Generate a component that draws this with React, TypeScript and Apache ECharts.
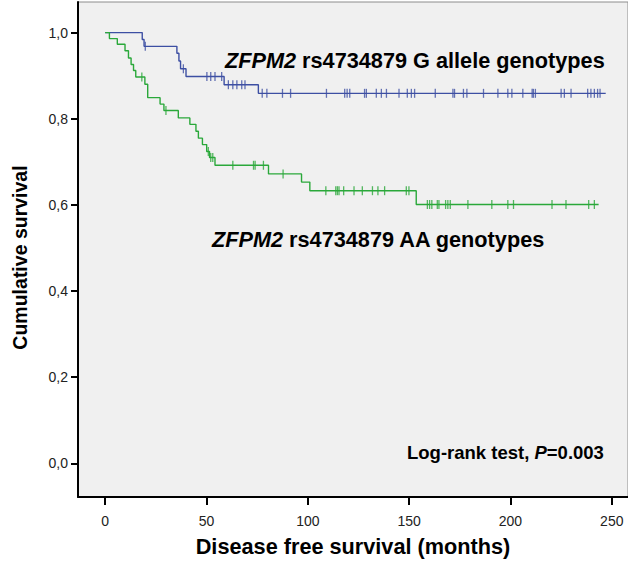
import React, { useEffect, useRef } from "react";
import * as echarts from "echarts";

// Kaplan-Meier step data (time in months, cumulative survival)
const blueTimes = [0, 18.3, 19.2, 35.4, 36.4, 37.2, 39.9, 58.7, 75.6, 247];
const blueSurv = [1, 0.984, 0.968, 0.952, 0.934, 0.916, 0.898, 0.879, 0.859, 0.859];
const blueCensored = [
  19.8, 38.6, 50.2, 52.1, 54.2, 57.5, 60.8, 63, 65, 67.4, 69, 77.5, 79.8, 87.5, 91.5,
  109.2, 118.2, 119.4, 120.7, 128, 128.9, 133.8, 136.3, 138.8, 145, 149.1, 151.1, 152.7,
  162.9, 171.6, 172.4, 176.8, 178.5, 186.7, 193.8, 198.7, 200.7, 206.1, 210.7, 211.3,
  212.3, 225, 226.6, 229.9, 238.1, 239.7, 241.4, 243, 244.2,
];

const greenTimes = [
  0, 2.1, 6.0, 9.8, 11.5, 12.8, 14.0, 15.1, 19.6, 21.0, 27.1, 29.0, 36.1, 41.8, 44.8,
  46.0, 48.0, 50.1, 51.5, 54.2, 80.6, 96.9, 101, 153.5, 243.5,
];
const greenSurv = [
  1, 0.986, 0.973, 0.958, 0.941, 0.926, 0.912, 0.897, 0.88, 0.849, 0.834, 0.819, 0.802,
  0.787, 0.771, 0.755, 0.74, 0.724, 0.71, 0.692, 0.672, 0.653, 0.633, 0.601, 0.601,
];
const greenCensored = [
  18.1, 30, 50.9, 52.1, 53.1, 63, 73.2, 74, 78.1, 87.8, 108.9, 113.8, 114.6, 115.4, 117.7,
  122.8, 126.9, 131.9, 134.6, 137.9, 148.6, 149.9, 159, 160.1, 161.2, 163.9, 164.7, 168,
  169.1, 170.3, 179, 190.8, 198.7, 201.5, 220.5, 227.4, 238.6, 241.4,
];

const xTicks = [0, 50, 100, 150, 200, 250];
const yTicks = [0, 0.2, 0.4, 0.6, 0.8, 1.0];

const blueLabel = "rs4734879 G allele genotypes";
const greenLabel = "rs4734879 AA genotypes";
const geneName = "ZFPM2";
const testLabel = "Log-rank test, ";
const pLabel = "=0.003";

const FONT = '"Liberation Sans", Arial, sans-serif';
const BLUE = "#3d4fa3";
const GREEN = "#2aa83a";

function survAt(times: number[], surv: number[], t: number) {
  let v = surv[0];
  for (let i = 0; i < times.length; i++) {
    if (times[i] <= t) v = surv[i];
  }
  return v;
}

export default function App() {
  const ref = useRef<HTMLDivElement>(null);
  useEffect(() => {
    if (!ref.current) return;
    const chart = echarts.init(ref.current, null, { renderer: "svg" });
    const censorSymbol = { symbol: "rect", symbolSize: [1.3, 9] };
    const annFont = 21.7;
    chart.setOption({
      animation: false,
      backgroundColor: "#ffffff",
      grid: {
        left: 78,
        right: 0,
        top: 2,
        bottom: 60,
        show: true,
        backgroundColor: "#f0f0f0",
        borderColor: "#8c8c8c",
        borderWidth: 1,
      },
      xAxis: {
        type: "value",
        min: -13.4,
        max: 258,
        name: "Disease free survival (months)",
        nameLocation: "middle",
        nameGap: 38,
        nameTextStyle: { fontFamily: FONT, fontWeight: "bold", fontSize: 21.7, color: "#000" },
        axisLine: { show: true, onZero: false, lineStyle: { color: "#000", width: 2 } },
        axisTick: { show: true, length: 8, customValues: xTicks, lineStyle: { color: "#000", width: 2 } },
        axisLabel: { customValues: xTicks, margin: 17, fontFamily: FONT, fontSize: 14, color: "#222" },
        splitLine: { show: false },
      },
      yAxis: {
        type: "value",
        min: -0.078,
        max: 1.071,
        name: "Cumulative survival",
        nameLocation: "middle",
        nameGap: 48,
        nameTextStyle: {
          fontFamily: FONT,
          fontWeight: "bold",
          fontSize: 19.5,
          color: "#000",
          padding: [0, 16, 0, 0],
        },
        axisLine: { show: true, onZero: false, lineStyle: { color: "#000", width: 2 } },
        axisTick: { show: true, length: 7, customValues: yTicks, lineStyle: { color: "#000", width: 2 } },
        axisLabel: {
          customValues: yTicks,
          margin: 10,
          fontFamily: FONT,
          fontSize: 14,
          color: "#222",
          formatter: (v: number) => v.toFixed(1).replace(".", ","),
        },
        splitLine: { show: false },
      },
      series: [
        {
          type: "line",
          step: "end",
          data: blueTimes.map((t, i) => [t, blueSurv[i]]),
          showSymbol: false,
          lineStyle: { color: BLUE, width: 1.4 },
          itemStyle: { color: BLUE },
        },
        {
          type: "line",
          step: "end",
          data: greenTimes.map((t, i) => [t, greenSurv[i]]),
          showSymbol: false,
          lineStyle: { color: GREEN, width: 1.4 },
          itemStyle: { color: GREEN },
        },
        {
          type: "scatter",
          ...censorSymbol,
          data: blueCensored.map((t) => [t, survAt(blueTimes, blueSurv, t)]),
          itemStyle: { color: BLUE },
        },
        {
          type: "scatter",
          ...censorSymbol,
          data: greenCensored.map((t) => [t, survAt(greenTimes, greenSurv, t)]),
          itemStyle: { color: GREEN },
        },
      ],
      graphic: [
        {
          type: "text",
          left: 225,
          top: 49,
          style: {
            text: `{i|${geneName}} ${blueLabel}`,
            font: `bold ${annFont}px ${FONT}`,
            fill: "#000",
            rich: { i: { fontStyle: "italic", fontWeight: "bold", fontSize: annFont, fontFamily: FONT, fill: "#000" } },
          },
        },
        {
          type: "text",
          left: 212,
          top: 228,
          style: {
            text: `{i|${geneName}} ${greenLabel}`,
            font: `bold ${annFont}px ${FONT}`,
            fill: "#000",
            rich: { i: { fontStyle: "italic", fontWeight: "bold", fontSize: annFont, fontFamily: FONT, fill: "#000" } },
          },
        },
        {
          type: "text",
          left: 407,
          top: 443,
          style: {
            text: `${testLabel}{i|P}${pLabel}`,
            font: `bold 18.5px ${FONT}`,
            fill: "#000",
            rich: { i: { fontStyle: "italic", fontWeight: "bold", fontSize: 18.5, fontFamily: FONT, fill: "#000" } },
          },
        },
      ],
    });
    return () => chart.dispose();
  }, []);
  return (
    <div
      ref={ref}
      style={{ position: "fixed", left: 0, top: 0, width: 628, height: 562, background: "#fff" }}
    />
  );
}
